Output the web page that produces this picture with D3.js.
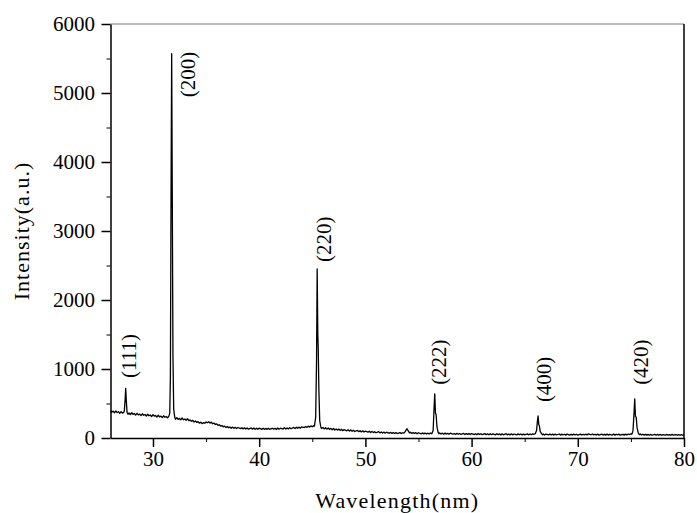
<!DOCTYPE html>
<html>
<head>
<meta charset="utf-8">
<script src="https://cdn.jsdelivr.net/npm/d3@7"></script>
<style>
  body { margin: 0; background: #fff; }
  svg { display: block; }
  text { font-family: "Liberation Serif", "Times New Roman", serif; fill: #000; }
</style>
</head>
<body>
<svg id="chart" width="697" height="513"></svg>
<script>
// scan: [2theta, intensity]
const scan = [
  [26.00,398],[26.12,372],[26.25,390],[26.37,366],[26.50,392],[26.62,370],[26.75,381],[26.87,358],
  [27.00,383],[27.12,360],[27.25,372],
  [27.30,390],[27.38,560],[27.43,720],[27.48,560],[27.56,370],
  [27.65,345],[27.75,362],[27.87,340],[28.00,366],[28.12,342],[28.25,355],[28.37,332],[28.50,358],
  [28.62,336],[28.75,347],[28.87,325],[29.00,351],[29.12,330],[29.25,340],[29.37,318],[29.50,344],
  [29.62,322],[29.75,333],[29.87,310],[30.00,338],[30.12,316],[30.25,326],[30.37,303],[30.50,330],
  [30.62,306],[30.75,318],[30.87,296],[31.00,322],[31.12,300],[31.25,312],[31.37,292],[31.50,316],
  [31.58,360],[31.64,900],[31.70,3500],[31.76,5570],[31.82,3400],[31.88,1200],[31.95,420],[32.05,300],
  [32.12,272],[32.25,296],[32.37,270],[32.50,284],[32.62,262],[32.75,290],[32.87,264],[33.00,276],
  [33.12,256],[33.25,280],[33.37,250],[33.50,262],[33.62,242],[33.75,255],[33.87,232],[34.00,246],
  [34.12,226],[34.25,238],[34.37,216],[34.50,228],[34.62,208],[34.75,222],[34.87,214],[35.00,232],
  [35.12,220],[35.25,236],[35.37,216],[35.50,230],[35.62,206],[35.75,216],[35.87,196],[36.00,204],
  [36.12,184],[36.25,192],[36.37,172],[36.50,180],[36.62,162],[36.75,172],[36.87,152],[37.00,166],
  [37.12,148],[37.25,160],[37.37,142],[37.50,158],[37.62,140],[37.75,155],[37.87,136],[38.00,152],
  [38.25,136],[38.37,150],[38.50,132],[38.62,148],[38.75,130],[38.87,146],[39.00,128],[39.25,146],
  [39.37,128],[39.50,145],[39.62,127],[39.75,142],[39.87,126],[40.00,144],[40.25,126],[40.37,142],
  [40.50,124],[40.62,140],[40.75,125],[40.87,141],[41.00,124],[41.25,143],[41.37,126],[41.50,140],
  [41.62,124],[41.75,145],[41.87,128],[42.00,142],[42.25,130],[42.37,148],[42.50,131],[42.62,146],
  [42.75,132],[42.87,150],[43.00,134],[43.25,153],[43.37,136],[43.50,156],[43.62,140],[43.75,158],
  [43.87,142],[44.00,160],[44.25,150],[44.37,168],[44.50,154],[44.62,172],[44.75,158],[44.87,176],
  [45.00,162],[45.12,178],[45.20,170],
  [45.32,300],[45.40,1100],[45.46,2450],[45.52,1500],[45.56,1300],[45.62,700],[45.70,250],[45.80,160],
  [45.87,138],[46.00,152],[46.12,132],[46.25,148],[46.37,128],[46.50,146],[46.62,124],[46.75,140],
  [46.87,120],[47.00,138],[47.12,116],[47.25,132],[47.37,114],[47.50,130],[47.62,110],[47.75,126],
  [47.87,106],[48.00,122],[48.25,104],[48.37,120],[48.50,100],[48.62,116],[48.75,98],[48.87,112],
  [49.00,94],[49.25,110],[49.37,92],[49.50,106],[49.62,88],[49.75,104],[49.87,86],[50.00,100],
  [50.25,84],[50.37,98],[50.50,80],[50.62,96],[50.75,78],[50.87,92],[51.00,76],[51.25,92],
  [51.37,74],[51.50,88],[51.62,72],[51.75,86],[51.87,70],[52.00,84],[52.25,68],[52.37,82],
  [52.50,66],[52.62,80],[52.75,66],[52.87,78],[53.00,64],[53.25,78],[53.37,64],[53.50,76],
  [53.62,70],[53.75,92],
  [53.90,135],[54.05,100],[54.15,74],[54.25,84],[54.37,66],[54.50,80],[54.62,64],[54.75,78],
  [54.87,62],[55.00,76],[55.25,60],[55.37,74],[55.50,60],[55.62,72],[55.75,58],[55.87,70],
  [56.00,58],[56.12,72],[56.25,62],
  [56.38,110],[56.47,450],[56.53,640],[56.60,360],[56.66,340],[56.74,160],[56.85,80],
  [56.93,62],[57.00,74],[57.12,58],[57.25,70],[57.37,56],[57.50,72],[57.62,56],[57.75,68],
  [57.87,54],[58.00,70],[58.25,54],[58.37,66],[58.50,52],[58.62,68],[58.75,54],[58.87,66],
  [59.00,52],[59.25,66],[59.37,50],[59.50,64],[59.62,52],[59.75,66],[59.87,50],[60.00,64],
  [60.25,50],[60.37,62],[60.50,48],[60.62,64],[60.75,50],[60.87,62],[61.00,48],[61.25,64],
  [61.37,48],[61.50,60],[61.62,46],[61.75,62],[61.87,48],[62.00,60],[62.25,46],[62.37,62],
  [62.50,46],[62.62,60],[62.75,44],[62.87,60],[63.00,46],[63.25,62],[63.37,46],[63.50,58],
  [63.62,44],[63.75,60],[63.87,46],[64.00,58],[64.25,44],[64.37,60],[64.50,46],[64.62,58],
  [64.75,44],[64.87,58],[65.00,46],[65.25,60],[65.37,46],[65.50,58],[65.62,48],[65.75,60],
  [65.87,54],[66.00,64],
  [66.12,110],[66.20,250],[66.26,320],[66.33,190],[66.38,180],[66.46,95],[66.60,60],
  [66.68,46],[66.75,58],[66.87,44],[67.00,56],[67.25,44],[67.37,58],[67.50,44],[67.62,56],
  [67.75,42],[67.87,56],[68.00,44],[68.25,58],[68.37,42],[68.50,56],[68.62,44],[68.75,54],
  [68.87,42],[69.00,56],[69.25,42],[69.37,54],[69.50,42],[69.62,56],[69.75,44],[69.87,54],
  [70.00,42],[70.25,56],[70.37,42],[70.50,54],[70.62,44],[70.75,56],[70.87,44],[71.00,60],
  [71.25,46],[71.37,58],[71.50,44],[71.62,54],[71.75,42],[71.87,56],[72.00,42],[72.25,56],
  [72.37,42],[72.50,54],[72.62,42],[72.75,56],[72.87,42],[73.00,54],[73.25,42],[73.37,56],
  [73.50,42],[73.62,54],[73.75,44],[73.87,56],[74.00,42],[74.25,54],[74.37,42],[74.50,56],
  [74.62,44],[74.75,58],[74.87,48],[75.00,60],[75.10,56],
  [75.20,110],[75.30,380],[75.36,565],[75.43,310],[75.50,300],[75.58,150],[75.70,72],[75.80,50],
  [75.90,58],[76.00,44],[76.12,54],[76.25,42],[76.37,54],[76.50,42],[76.62,52],[76.75,40],
  [76.87,52],[77.00,40],[77.25,54],[77.37,40],[77.50,52],[77.62,40],[77.75,52],[77.87,40],
  [78.00,50],[78.25,40],[78.37,52],[78.50,40],[78.62,50],[78.75,40],[78.87,52],[79.00,40],
  [79.25,50],[79.37,40],[79.50,50],[79.62,40],[79.75,50],[79.87,40],[80.00,48]
];

// reflection labels: hkl, label anchor (2theta, intensity)
const reflections = [
  { hkl: "(111)", at: 28.40, level: 870 },
  { hkl: "(200)", at: 33.96, level: 4940 },
  { hkl: "(220)", at: 46.76, level: 2550 },
  { hkl: "(222)", at: 57.59, level: 770 },
  { hkl: "(400)", at: 67.48, level: 520 },
  { hkl: "(420)", at: 76.61, level: 770 }
];

const xTicks = [30, 40, 50, 60, 70, 80];
const xMinor = [35, 45, 55, 65, 75];
const yTicks = [0, 1000, 2000, 3000, 4000, 5000, 6000];
const yMinor = [500, 1500, 2500, 3500, 4500, 5500];

const xLabel = "Wavelength(nm)";
const yLabel = "Intensity(a.u.)";

const plotLeft = 110.5, plotTop = 24, plotRight = 684, plotBottom = 438;

const svg = d3.select("#chart");

const x = d3.scaleLinear().domain([26, 80]).range([plotLeft, plotRight]);
const y = d3.scaleLinear().domain([0, 6000]).range([plotBottom, plotTop]);

// frame: top edge is light
svg.append("line")
  .attr("x1", plotLeft).attr("x2", plotRight).attr("y1", plotTop).attr("y2", plotTop)
  .attr("stroke", "#7a7a7a").attr("stroke-width", 1.2);
svg.append("line")
  .attr("x1", plotRight).attr("x2", plotRight).attr("y1", plotTop).attr("y2", plotBottom)
  .attr("stroke", "#000").attr("stroke-width", 1.5);

// minor ticks
svg.append("g")
  .attr("transform", `translate(0,${plotBottom})`)
  .call(d3.axisBottom(x).tickValues(xMinor).tickSize(4).tickFormat(""))
  .call(g => g.select(".domain").remove());
svg.append("g")
  .attr("transform", `translate(${plotLeft},0)`)
  .call(d3.axisLeft(y).tickValues(yMinor).tickSize(4).tickFormat(""))
  .call(g => g.select(".domain").remove());

// major axes
const xAxis = svg.append("g")
  .attr("transform", `translate(0,${plotBottom})`)
  .call(d3.axisBottom(x).tickValues(xTicks).tickSize(9).tickPadding(4).tickSizeOuter(0).tickFormat(d3.format("d")));
const yAxis = svg.append("g")
  .attr("transform", `translate(${plotLeft},0)`)
  .call(d3.axisLeft(y).tickValues(yTicks).tickSize(9).tickPadding(6.5).tickSizeOuter(0).tickFormat(d3.format("d")));

[xAxis, yAxis].forEach(g => {
  g.attr("font-family", null);
  g.selectAll("text").attr("font-size", 21);
  g.selectAll("line").attr("stroke-width", 1.5);
  g.select(".domain").attr("stroke-width", 1.5);
});

// spectrum
const line = d3.line().x(d => x(d[0])).y(d => y(d[1]));
svg.append("path")
  .datum(scan)
  .attr("d", line)
  .attr("fill", "none")
  .attr("stroke", "#000")
  .attr("stroke-width", 1.3)
  .attr("stroke-linejoin", "round");

// peak labels
svg.selectAll(".hkl")
  .data(reflections)
  .join("text")
  .attr("class", "hkl")
  .attr("transform", d => `translate(${x(d.at)},${y(d.level)}) rotate(-90)`)
  .attr("font-size", 21)
  .text(d => d.hkl);

// axis titles
svg.append("text")
  .attr("x", (plotLeft + plotRight) / 2)
  .attr("y", 508)
  .attr("text-anchor", "middle")
  .attr("font-size", 22)
  .attr("letter-spacing", 1.2)
  .text(xLabel);

svg.append("text")
  .attr("transform", `translate(29,${(plotTop + plotBottom) / 2}) rotate(-90)`)
  .attr("text-anchor", "middle")
  .attr("font-size", 22)
  .attr("letter-spacing", 1)
  .text(yLabel);
</script>
</body>
</html>
